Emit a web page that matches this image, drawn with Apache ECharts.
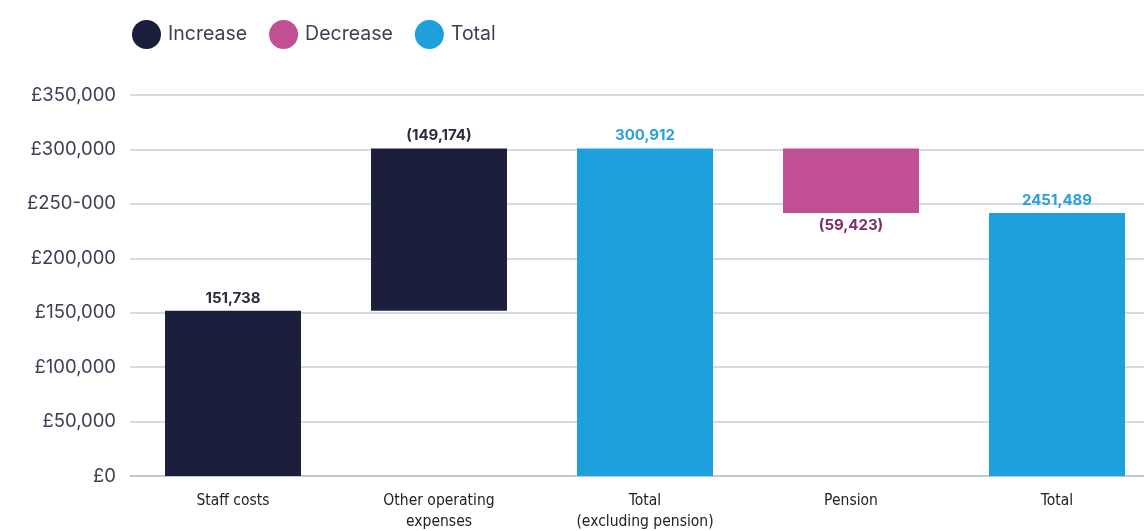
<!DOCTYPE html>
<html>
<head>
<meta charset="utf-8">
<script src="https://cdn.jsdelivr.net/npm/echarts@6/dist/echarts.min.js"></script>
<style>
  html, body { margin: 0; padding: 0; background: #fff; }
  #chart { width: 1144px; height: 531px; }
</style>
</head>
<body>
<div id="chart"></div>
<script>
// Waterfall: staff costs + other expenses -> total, minus pension -> total
const categories = ['Staff costs', 'Other operating\nexpenses', 'Total\n(excluding pension)', 'Pension', 'Total'];
const increaseValues = [151738, 149174, '-', '-', '-'];
const decreaseValues = ['-', '-', '-', 59423, '-'];
const totalValues = ['-', '-', 300912, '-', 241489];
const barLabels = ['151,738', '(149,174)', '300,912', '(59,423)', '2451,489'];
const yTickLabels = ['£0', '£50,000', '£100,000', '£150,000', '£200,000', '£250-000', '£300,000', '£350,000'];

// invisible base under each floating bar
let running = 0;
const baseValues = categories.map((c, i) => {
    if (totalValues[i] !== '-') { running = totalValues[i]; return 0; }
    if (increaseValues[i] !== '-') { const b = running; running += increaseValues[i]; return b; }
    running -= decreaseValues[i];
    return running;
});

const NAVY = '#1c1f3b';
const PINK = '#c04f93';
const BLUE = '#1ea0dc';
const TEXT = '#3d3f52';

const chart = echarts.init(document.getElementById('chart'));

const labelFor = (color, pos) => ({
    show: true,
    position: pos,
    distance: 5,
    color: color,
    fontFamily: 'Inter, Roboto, sans-serif',
    fontWeight: 'bold',
    fontSize: 15,
    formatter: p => barLabels[p.dataIndex]
});

chart.setOption({
    animation: false,
    legend: {
        left: 127,
        top: 15,
        icon: 'circle',
        itemWidth: 29,
        itemHeight: 29,
        itemGap: 22,
        textStyle: { color: TEXT, fontSize: 19.5, fontFamily: 'Inter, Roboto, sans-serif', padding: [0, 0, 0, 2] },
        data: ['Increase', 'Decrease', 'Total']
    },
    grid: { left: 130, top: 95, width: 1030, bottom: 55, containLabel: false, outerBoundsMode: 'none' },
    xAxis: {
        type: 'category',
        data: categories,
        axisTick: { show: false },
        axisLine: { lineStyle: { color: '#b9c4ce', width: 1.5 } },
        axisLabel: {
            color: '#222',
            fontSize: 15.5,
            margin: 14,
            lineHeight: 21,
            fontFamily: '"Liberation Sans Narrow", "DejaVu Sans Condensed", sans-serif'
        }
    },
    yAxis: {
        type: 'value',
        min: 0,
        max: 350000,
        interval: 50000,
        axisLabel: {
            color: TEXT,
            fontSize: 18.5,
            margin: 14,
            fontFamily: 'Inter, Roboto, sans-serif',
            formatter: v => yTickLabels[Math.round(v / 50000)]
        },
        splitLine: { lineStyle: { color: '#c5d0da', width: 1.5 } }
    },
    series: [
        {
            name: 'base',
            type: 'bar',
            stack: 'w',
            barWidth: 136,
            itemStyle: { color: 'transparent' },
            emphasis: { disabled: true },
            data: baseValues
        },
        {
            name: 'Increase',
            type: 'bar',
            stack: 'w',
            itemStyle: { color: NAVY },
            label: labelFor('#2a2d40', 'top'),
            data: increaseValues
        },
        {
            name: 'Decrease',
            type: 'bar',
            stack: 'w',
            itemStyle: { color: PINK },
            label: labelFor('#7a2e6e', 'bottom'),
            data: decreaseValues
        },
        {
            name: 'Total',
            type: 'bar',
            stack: 'w',
            itemStyle: { color: BLUE },
            label: labelFor('#2a9fd8', 'top'),
            data: totalValues
        }
    ]
});
</script>
</body>
</html>
